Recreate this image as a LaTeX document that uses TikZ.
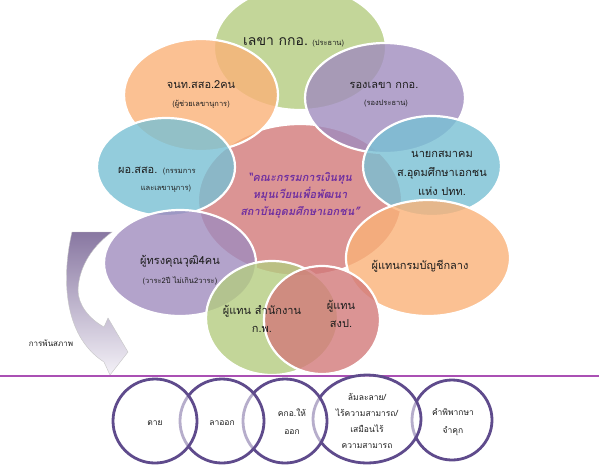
\documentclass[tikz,border=0pt]{standalone}
\usepackage{fontspec}
\setmainfont[Script=Thai]{Loma}
\definecolor{cgreen}{RGB}{180,204,128}
\definecolor{corange}{RGB}{250,178,120}
\definecolor{cpurple}{RGB}{160,140,190}
\definecolor{cblue}{RGB}{120,192,212}
\definecolor{cpink}{RGB}{210,122,122}
\definecolor{ctext}{RGB}{30,30,30}
\definecolor{cvio}{RGB}{112,48,160}
\definecolor{cring}{RGB}{95,75,140}
\definecolor{cline}{RGB}{170,80,180}
\tikzset{
  bub/.style={draw=white, line width=2.2pt, fill opacity=0.8},
  lab/.style={text=ctext, align=center, font=\fontsize{11}{13}\selectfont, inner sep=0pt},
  small/.style={text=ctext, align=center, font=\fontsize{7.5}{9}\selectfont, inner sep=0pt},
  ring/.style={draw=cring, line width=2.8pt, fill=white, fill opacity=0.55},
  rlab/.style={text=ctext, align=center, font=\fontsize{8.5}{16}\selectfont, inner sep=0pt}
}
\begin{document}
\begin{tikzpicture}[x=1pt,y=-1pt]
\useasboundingbox (0,0) rectangle (599,467);
\fill[white] (0,0) rectangle (599,467);
% bubbles
\draw[bub, fill=cpink] (300,200) ellipse [x radius=102, y radius=76];
\draw[bub, fill=cgreen] (300,48) ellipse [x radius=86, y radius=62];
\draw[bub, fill=corange] (201,95) ellipse [x radius=77, y radius=56];
\draw[bub, fill=cpurple] (385,98) ellipse [x radius=80, y radius=55];
\draw[bub, fill=cblue] (166,167) ellipse [x radius=69, y radius=49];
\draw[bub, fill=cblue] (432,166) ellipse [x radius=69, y radius=50];
% curved arrow (behind purple-left)
\shade[top color=cpurple!85!black, bottom color=cpurple!12, draw=gray!45, line width=0.4pt]
  (72,232) .. controls (62,275) and (62,335) .. (104,362)
  -- (110,375) -- (128,352) -- (108,318) -- (104,327)
  .. controls (88,318) and (78,304) .. (78,290)
  .. controls (79,265) and (94,245) .. (112,232) -- cycle;
\draw[bub, fill=corange] (428,258) ellipse [x radius=82, y radius=58];
\draw[bub, fill=cpurple] (180,263) ellipse [x radius=76, y radius=53];
\draw[bub, fill=cgreen] (272,318) ellipse [x radius=66, y radius=57];
\draw[bub, fill=cpink] (322,320) ellipse [x radius=58, y radius=54];
% labels
\node[lab, font=\fontsize{14}{16}\selectfont, anchor=base west] (n1) at (243,45) {เลขา กกอ.};
\node[small, anchor=base west] (n1s) at (n1.base east) [xshift=4pt] {(ประธาน)};
\node[lab] (n2) at (201,85) {จนท.สสอ.2คน};
\node[small] (n2s) at (201,104) {(ผู้ช่วยเลขานุการ)};
\node[lab] (n3) at (384,85) {รองเลขา กกอ.};
\node[small] (n3s) at (386,104) {(รองประธาน)};
\node[lab, anchor=base west] (n4) at (118,173) {ผอ.สสอ.};
\node[small, anchor=base west] (n4s) at (n4.base east) [xshift=5pt] {(กรรมการ};
\node[small] (n4t) at (166,189) {และเลขานุการ)};
\node[text=cvio, align=center, inner sep=0pt, font=\fontsize{11}{17}\selectfont\bfseries\itshape] (c) at (300,195)
  {“คณะกรรมการเงินทุน\\หมุนเวียนเพื่อพัฒนา\\สถาบันอุดมศึกษาเอกชน”};
\node[lab, font=\fontsize{11}{19}\selectfont] (n5) at (442,173) {นายกสมาคม\\ส.อุดมศึกษาเอกชน\\แห่ง ปทท.};
\node[lab] (n6) at (420,266) {ผู้แทนกรมบัญชีกลาง};
\node[lab] (n7) at (180,261) {ผู้ทรงคุณวุฒิ4คน};
\node[small] (n7s) at (180,281) {(วาระ2ปี ไม่เกิน2วาระ)};
\node[lab, font=\fontsize{11}{18}\selectfont] (n8) at (262,319) {ผู้แทน สำนักงาน\\ก.พ.};
\node[lab, font=\fontsize{11}{18}\selectfont] (n9) at (341,314) {ผู้แทน\\สงป.};
\node[small, font=\fontsize{8}{10}\selectfont] (n10) at (51,343) {การพ้นสภาพ};
% divider
\draw[cline, line width=1.4pt] (0,376) -- (599,376);
% rings, right to left
\draw[ring] (452,420) circle [radius=40];
\draw[ring] (367,419) ellipse [x radius=54, y radius=44];
\draw[ring] (285,421) circle [radius=42];
\draw[ring] (222,421) circle [radius=42];
\draw[ring] (155,421) circle [radius=42];
\node[rlab] (r1) at (155,423) {ตาย};
\node[rlab] (r2) at (222,423) {ลาออก};
\node[rlab, font=\fontsize{8.5}{18}\selectfont] (r3) at (292,422) {คกอ.ให้\\ออก};
\node[rlab] (r4) at (367,421) {ล้มละลาย/\\ไร้ความสามารถ/\\เสมือนไร้\\ความสามารถ};
\node[rlab, font=\fontsize{8.5}{18}\selectfont] (r5) at (453,422) {คำพิพากษา\\จำคุก};
\end{tikzpicture}
\end{document}
